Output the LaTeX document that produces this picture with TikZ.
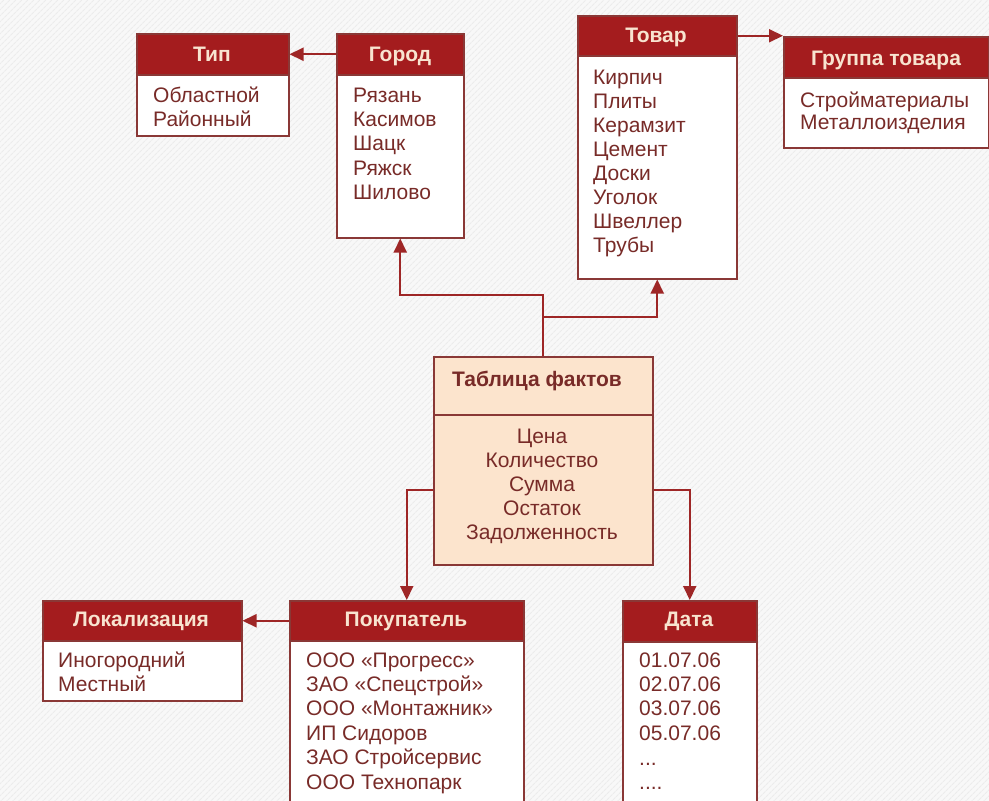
\documentclass[tikz,border=0pt]{standalone}
\usepackage{fontspec}
\setmainfont{Liberation Sans}
\usetikzlibrary{arrows.meta,patterns.meta}

\definecolor{bg}{HTML}{F8F8F8}
\definecolor{hatch}{HTML}{ECECEC}
\definecolor{hdrred}{HTML}{A41C1E}
\definecolor{hdrtext}{HTML}{F8E4D0}
\definecolor{edge}{HTML}{8A3836}
\definecolor{ink}{HTML}{782B28}
\definecolor{wire}{HTML}{9E2626}
\definecolor{factfill}{HTML}{FCE4CD}

\tikzset{
  hdr/.style={draw=edge, line width=1.5pt, fill=hdrred, inner sep=0pt},
  bodybox/.style={draw=edge, line width=1.5pt, fill=white, inner sep=0pt},
  htxt/.style={inner sep=0pt, text=hdrtext, font=\fontsize{21}{24}\selectfont\bfseries},
  item/.style={inner sep=0pt, text=ink, font=\fontsize{21}{24}\selectfont},
  link/.style={draw=wire, line width=2pt},
  arrow/.style={link, -{Triangle[length=14pt,width=13pt]}},
}

% entity box: #1 name, #2 left, #3 top, #4 width, #5 header height, #6 body height
\newcommand\entitybox[6]{%
  \node[hdr, minimum width=#4, minimum height=#5, anchor=north west] (#1H) at (#2,#3) {};
  \node[bodybox, minimum width=#4, minimum height=#6, anchor=north west] (#1B) at (#2,#3+#5) {};
}

\begin{document}
\begin{tikzpicture}[x=1pt,y=-1pt]
\useasboundingbox (0,0) rectangle (989,801);
\clip (0,0) rectangle (989,801);
\fill[bg] (0,0) rectangle (989,801);
\fill[pattern={Lines[angle=45, distance=4pt, line width=1.2pt]}, pattern color=hatch]
  (0,0) rectangle (989,801);

% dimension tables
\entitybox{tip}{136}{33}{152}{41}{61}
\entitybox{gorod}{336}{33}{127}{41}{163}
\entitybox{tovar}{577}{15}{159}{40}{223}
\entitybox{gruppa}{783}{36}{205}{41}{70}
\entitybox{lok}{42}{600}{199}{40}{60}
\entitybox{pok}{289}{600}{234}{40}{230}
\entitybox{data}{622}{600}{134}{41}{230}

% titles
\node[htxt, anchor=base] (tipT) at (212,61) {Тип};
\node[htxt, anchor=base] (gorodT) at (400,61) {Город};
\node[htxt, anchor=base] (tovarT) at (656,42) {Товар};
\node[htxt, anchor=base] (gruppaT) at (886,65) {Группа товара};
\node[htxt, anchor=base] (lokT) at (141,626) {Локализация};
\node[htxt, anchor=base] (pokT) at (406,626) {Покупатель};
\node[htxt, anchor=base] (dataT) at (689,626) {Дата};

% members
\foreach \t [count=\i from 0] in {Областной,Районный}
  \node[item, anchor=base west] (tip-\i) at (153,102+24*\i) {\t};
\foreach \t [count=\i from 0] in {Рязань,Касимов,Шацк,Ряжск,Шилово}
  \node[item, anchor=base west] (gorod-\i) at (353,102+24.4*\i) {\t};
\foreach \t [count=\i from 0] in {Кирпич,Плиты,Керамзит,Цемент,Доски,Уголок,Швеллер,Трубы}
  \node[item, anchor=base west] (tovar-\i) at (593,84+24.1*\i) {\t};
\foreach \t [count=\i from 0] in {Стройматериалы,Металлоизделия}
  \node[item, anchor=base west] (gruppa-\i) at (800,107+22*\i) {\t};
\foreach \t [count=\i from 0] in {Иногородний,Местный}
  \node[item, anchor=base west] (lok-\i) at (58,667+24*\i) {\t};
\foreach \t [count=\i from 0] in {ООО «Прогресс»,ЗАО «Спецстрой»,ООО «Монтажник»,ИП Сидоров,ЗАО Стройсервис,ООО Технопарк}
  \node[item, anchor=base west] (pok-\i) at (306,667+24.4*\i) {\t};
\foreach \t [count=\i from 0] in {01.07.06,02.07.06,03.07.06,05.07.06}
  \node[item, anchor=base west] (data-\i) at (639,667+24.4*\i) {\t};
\node[item, anchor=base west] (data-4) at (639,765) {...};
\node[item, anchor=base west] (data-5) at (639,789) {....};

% fact table
\node[draw=edge, line width=1.5pt, fill=factfill, minimum width=219, minimum height=208,
      anchor=north west, inner sep=0pt] (fact) at (433,356) {};
\draw[edge, line width=1.5pt] (fact.north west |- 0,415) -- (fact.north east |- 0,415);
\node[inner sep=0pt, anchor=base, text=ink, font=\fontsize{21}{24}\selectfont\bfseries]
  (factT) at (537,386) {Таблица фактов};
\foreach \t [count=\i from 0] in {Цена,Количество,Сумма,Остаток,Задолженность}
  \node[item, anchor=base] (fact-\i) at (542,443+24.1*\i) {\t};

% connectors
\draw[arrow] (gorodH.west) -- (tipH.east);
\draw[arrow] (tovarH.east) -- (tovarH.east -| gruppaH.west);
\draw[arrow] (pokH.west) -- (lokH.east);
\draw[arrow] (fact.north) -- (fact.north |- 0,295) -| (gorodB.south);
\draw[arrow] (fact.north |- 0,317) -| (tovarB.south);
\draw[arrow] ([yshift=-29pt]fact.west) -| (pokH.north);
\draw[arrow] ([yshift=-29pt]fact.east) -| (dataH.north);
\end{tikzpicture}
\end{document}
